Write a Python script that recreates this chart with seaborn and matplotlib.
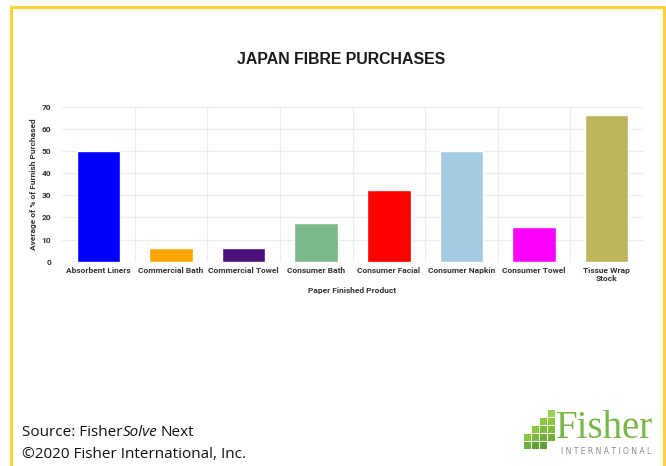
import matplotlib
matplotlib.use("Agg")
import matplotlib.pyplot as plt
from matplotlib.patches import Rectangle
from matplotlib.lines import Line2D
import seaborn as sns
import pandas as pd

# Chart data
products = ["Absorbent Liners", "Commercial Bath", "Commercial Towel", "Consumer Bath",
            "Consumer Facial", "Consumer Napkin", "Consumer Towel", "Tissue Wrap\nStock"]
furnish_pct = [50, 6, 6, 17.3, 32.4, 50, 15.5, 66.3]
bar_colors = ["#0000FF", "#FFA500", "#4A0F7B", "#7DB88A", "#FF0000", "#A3CBE1", "#FF00FF", "#BDB55A"]
y_ticks = [0, 10, 20, 30, 40, 50, 60, 70]

sns.set_theme(style="white")
plt.rcParams["font.family"] = ["Roboto", "DejaVu Sans"]

df = pd.DataFrame({"product": products, "value": furnish_pct})

fig = plt.figure(figsize=(6.66, 4.66), dpi=100)
fig.patch.set_facecolor("white")

# Yellow frame around the panel (open at the bottom)
frame_kw = dict(color="#FDD334", lw=2.2, solid_capstyle="butt")
fig.add_artist(Line2D([11 / 666, 11 / 666], [0, 1 - 6 / 466], transform=fig.transFigure, **frame_kw))
fig.add_artist(Line2D([664 / 666, 664 / 666], [0, 1 - 6 / 466], transform=fig.transFigure, **frame_kw))
fig.add_artist(Line2D([10 / 666, 665 / 666], [1 - 7 / 466, 1 - 7 / 466], transform=fig.transFigure, **frame_kw))

ax = fig.add_axes([62 / 666, 1 - 261.7 / 466, (643 - 62) / 666, (261.7 - 106.7) / 466])
sns.barplot(data=df, x="product", y="value", hue="product", palette=bar_colors,
            legend=False, width=0.6, saturation=1, ax=ax)

tick_fs = 6.0
ax.set_ylim(0, 70)
ax.set_xlim(-0.5, len(products) - 0.5)
ax.set_yticks(y_ticks)
ax.set_yticklabels([str(t) for t in y_ticks], fontsize=tick_fs, fontweight="bold", color="#333333")
ax.tick_params(axis="x", length=0, pad=4)
ax.tick_params(axis="y", length=0, pad=8)
for lab in ax.get_xticklabels():
    lab.set_fontsize(tick_fs)
    lab.set_fontweight("bold")
    lab.set_color("#333333")
    lab.set_linespacing(1.2)

# Gridlines: horizontal at ticks, vertical between categories
ax.set_axisbelow(True)
ax.yaxis.grid(True, color="#ececec", lw=0.8)
for b in range(1, len(products)):
    ax.axvline(b - 0.5, color="#ececec", lw=0.8, zorder=0)
ax.axhline(0, color="#dddddd", lw=0.8, zorder=0.5)
for s in ax.spines.values():
    s.set_visible(False)

ax.set_xlabel("Paper Finished Product", fontsize=tick_fs, fontweight="bold", color="#333333", labelpad=3)
ax.set_ylabel("Average of % of Furnish Purchased", fontsize=tick_fs, fontweight="bold", color="#333333", labelpad=3)

fig.text(341 / 666, 1 - 60 / 466, "JAPAN FIBRE PURCHASES", ha="center", va="center",
         fontsize=11.4, fontweight="bold", color="#1a1a1a", family="Liberation Sans")

# Source footer
foot_fs = 11
t1 = fig.text(22 / 666, 1 - 432 / 466, "Source: Fisher", ha="left", va="center",
              fontsize=foot_fs, color="#111111", family="Open Sans")
fig.canvas.draw()
r = fig.canvas.get_renderer()
w1 = t1.get_window_extent(r).x1
t2 = fig.text(w1 / 666, 1 - 432 / 466, "Solve", ha="left", va="center",
              fontsize=foot_fs, style="italic", color="#111111", family="Open Sans")
w2 = t2.get_window_extent(r).x1
fig.text((w2 + 3) / 666, 1 - 432 / 466, "Next", ha="left", va="center",
         fontsize=foot_fs, color="#111111", family="Open Sans")
fig.text(22 / 666, 1 - 455 / 466, "\u00a92020 Fisher International, Inc.", ha="left", va="center",
         fontsize=foot_fs, color="#111111", family="Open Sans")

# Logo: stepped green blocks with wordmark
blocks = [
    (524, 434, "#8CC63F"), (524, 442, "#6FAE3A"),
    (532, 426, "#8CC63F"), (532, 434, "#7DBA3C"), (532, 442, "#5E9E32"),
    (540, 418, "#8CC63F"), (540, 426, "#7DBA3C"), (540, 434, "#6FAE3A"), (540, 442, "#5E9E32"),
    (548, 410, "#9BCF4F"), (548, 418, "#8CC63F"), (548, 426, "#7DBA3C"), (548, 434, "#6FAE3A"),
]
for bx, by, c in blocks:
    fig.add_artist(Rectangle((bx / 666, 1 - (by + 7) / 466), 7 / 666, 7 / 466,
                             transform=fig.transFigure, color=c, lw=0))
fig.text(556 / 666, 1 - 428 / 466, "Fisher", ha="left", va="center", fontsize=28,
         color="#7AB648", family="Liberation Serif")
fig.text(561 / 666, 1 - 452 / 466, "I N T E R N A T I O N A L", ha="left", va="center",
         fontsize=5.5, color="#888888", family="DejaVu Sans")

fig.savefig("out.png", dpi=100)
